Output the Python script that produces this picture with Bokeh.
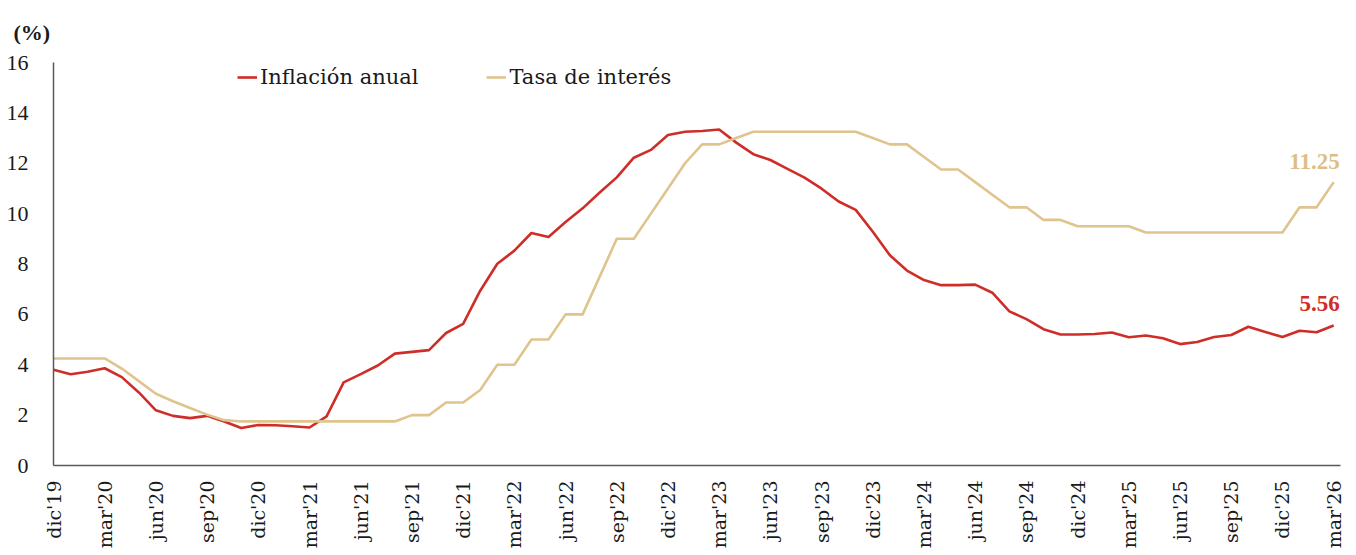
import math
from bokeh.plotting import figure
from bokeh.models import Range1d, FixedTicker, Legend, LegendItem, Label
from bokeh.embed import file_html
from bokeh.resources import INLINE

# ---- data (monthly, dic'19 .. mar'26) ----
months = []
_mn = ["ene", "feb", "mar", "abr", "may", "jun", "jul", "ago", "sep", "oct", "nov", "dic"]
months.append("dic'19")
for yy in range(20, 26):
    for m in _mn:
        months.append(f"{m}'{yy}")
for m in ["ene", "feb", "mar"]:
    months.append(f"{m}'26")

inflacion = [
    3.80,
    3.62, 3.72, 3.86, 3.51, 2.90, 2.19, 1.97, 1.88, 1.97, 1.75, 1.49, 1.61,
    1.60, 1.56, 1.51, 1.95, 3.30, 3.63, 3.97, 4.44, 4.51, 4.58, 5.26, 5.62,
    6.94, 8.01, 8.53, 9.23, 9.07, 9.67, 10.21, 10.84, 11.44, 12.22, 12.53, 13.12,
    13.25, 13.28, 13.34, 12.82, 12.36, 12.13, 11.78, 11.43, 10.99, 10.48, 10.15, 9.28,
    8.35, 7.74, 7.36, 7.16, 7.16, 7.18, 6.86, 6.12, 5.81, 5.41, 5.20, 5.20,
    5.22, 5.28, 5.09, 5.16, 5.05, 4.82, 4.90, 5.10, 5.18, 5.51, 5.30, 5.10,
    5.35, 5.29, 5.56,
]

tasa = [
    4.25,
    4.25, 4.25, 4.25, 3.85, 3.35, 2.85, 2.55, 2.28, 2.02, 1.80, 1.75, 1.75,
    1.75, 1.75, 1.75, 1.75, 1.75, 1.75, 1.75, 1.75, 2.00, 2.00, 2.50, 2.50,
    3.00, 4.00, 4.00, 5.00, 5.00, 6.00, 6.00, 7.50, 9.00, 9.00, 10.00, 11.00,
    12.00, 12.75, 12.75, 13.00, 13.25, 13.25, 13.25, 13.25, 13.25, 13.25, 13.25, 13.00,
    12.75, 12.75, 12.25, 11.75, 11.75, 11.25, 10.75, 10.25, 10.25, 9.75, 9.75, 9.50,
    9.50, 9.50, 9.50, 9.25, 9.25, 9.25, 9.25, 9.25, 9.25, 9.25, 9.25, 9.25,
    10.25, 10.25, 11.25,
]

tick_idx = list(range(0, len(months), 3))
tick_labels = [months[i] for i in tick_idx]
y_ticks = [0, 2, 4, 6, 8, 10, 12, 14, 16]

RED = "#CF2E28"
TAN = "#E0C48E"
TXT = "#1a1a1a"
AXC = "#5a5a5a"

x = list(range(len(months)))

p = figure(width=1356, height=555, output_backend="svg", toolbar_location=None,
           x_range=Range1d(0, 75.4), y_range=Range1d(0, 16),
           min_border_left=53, min_border_right=16, min_border_top=62, min_border_bottom=90)
p.outline_line_color = None
p.xgrid.visible = False
p.ygrid.visible = False
p.background_fill_color = "white"
p.border_fill_color = "white"

r_inf = p.line(x, inflacion, line_color=RED, line_width=2.6, line_join="round")
r_tasa = p.line(x, tasa, line_color=TAN, line_width=2.6, line_join="round")

# axes
p.yaxis.ticker = FixedTicker(ticks=y_ticks)
p.yaxis.major_tick_line_color = None
p.yaxis.minor_tick_line_color = None
p.yaxis.major_tick_out = 0
p.yaxis.major_label_standoff = 25
p.yaxis.major_label_text_font = "Liberation Serif"
p.yaxis.major_label_text_font_size = "22px"
p.yaxis.major_label_text_color = TXT
p.yaxis.axis_line_color = AXC
p.yaxis.axis_line_width = 1.5

p.xaxis.ticker = FixedTicker(ticks=tick_idx)
p.xaxis.major_label_overrides = {i: lab for i, lab in zip(tick_idx, tick_labels)}
p.xaxis.major_label_orientation = math.pi / 2
p.xaxis.major_tick_line_color = None
p.xaxis.minor_tick_line_color = None
p.xaxis.major_tick_out = 0
p.xaxis.major_label_standoff = 15
p.xaxis.major_label_text_font = "DejaVu Serif"
p.xaxis.major_label_text_font_size = "19px"
p.xaxis.major_label_text_color = TXT
p.xaxis.axis_line_color = AXC
p.xaxis.axis_line_width = 1.5

# unit label as title
p.title.text = "(%)"
p.title.align = "left"
p.title.offset = -40
p.title.standoff = 35
p.title.text_font = "Liberation Serif"
p.title.text_font_size = "22px"
p.title.text_font_style = "bold"
p.title.text_color = TXT

# legend
legend = Legend(items=[LegendItem(label="Inflación anual", renderers=[r_inf]),
                       LegendItem(label="Tasa de interés", renderers=[r_tasa])],
                orientation="horizontal", location=(184, 376),
                padding=0, margin=0, spacing=68, label_standoff=3,
                glyph_width=20, glyph_height=20,
                border_line_color=None, background_fill_alpha=0,
                label_text_font="DejaVu Serif", label_text_font_size="21px",
                label_text_color=TXT)
p.add_layout(legend, "center")

# end value labels
p.add_layout(Label(x=x[-1], y=tasa[-1], text=f"{tasa[-1]:.2f}", text_align="right",
                   text_baseline="bottom", x_offset=6, y_offset=13, text_font="Liberation Serif",
                   text_font_size="23px", text_font_style="bold", text_color="#DDBF86"))
p.add_layout(Label(x=x[-1], y=inflacion[-1], text=f"{inflacion[-1]:.2f}", text_align="right",
                   text_baseline="bottom", x_offset=6, y_offset=14, text_font="Liberation Serif",
                   text_font_size="23px", text_font_style="bold", text_color=RED))

open("out.html", "w").write(file_html(p, INLINE))
